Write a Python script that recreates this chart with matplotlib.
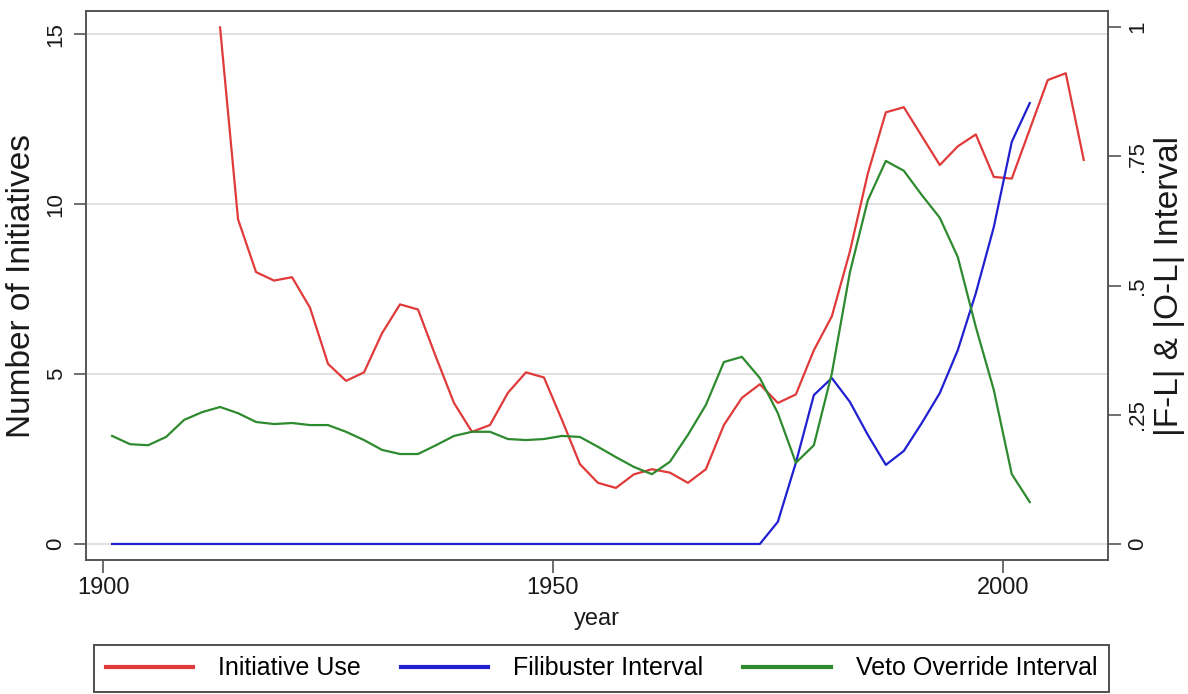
import matplotlib
matplotlib.use("Agg")
import matplotlib.pyplot as plt

plt.rcParams['font.family'] = ['Liberation Sans', 'DejaVu Sans']

# initiative use, odd years 1913-2009
init_years = list(range(1913, 2010, 2))
initiatives = [15.2, 9.55, 8.0, 7.75, 7.85, 6.95, 5.3, 4.8, 5.05, 6.2,
               7.05, 6.9, 5.5, 4.15, 3.3, 3.5, 4.45, 5.05, 4.9, 3.65,
               2.35, 1.8, 1.65, 2.05, 2.2, 2.1, 1.8, 2.2, 3.5, 4.3,
               4.7, 4.15, 4.4, 5.7, 6.7, 8.6, 10.9, 12.7, 12.85, 12.0,
               11.15, 11.7, 12.05, 10.8, 10.75, 12.2, 13.65, 13.85, 11.3]

# interval series, odd years 1901-2003
int_years = list(range(1901, 2004, 2))
filibuster = [0.0, 0.0, 0.0, 0.0, 0.0, 0.0, 0.0, 0.0, 0.0, 0.0,
              0.0, 0.0, 0.0, 0.0, 0.0, 0.0, 0.0, 0.0, 0.0, 0.0,
              0.0, 0.0, 0.0, 0.0, 0.0, 0.0, 0.0, 0.0, 0.0, 0.0,
              0.0, 0.0, 0.0, 0.0, 0.0, 0.0, 0.0,
              0.043, 0.157, 0.288, 0.321, 0.275, 0.211, 0.153, 0.180, 0.234,
              0.292, 0.375, 0.485, 0.613, 0.778, 0.853]
veto = [0.209, 0.193, 0.191, 0.207, 0.240, 0.255, 0.265, 0.253, 0.236, 0.232,
        0.234, 0.230, 0.230, 0.217, 0.201, 0.182, 0.174, 0.174, 0.191, 0.209,
        0.217, 0.217, 0.203, 0.201, 0.203, 0.209, 0.207, 0.188, 0.168, 0.149,
        0.135, 0.159, 0.211, 0.269, 0.352, 0.362, 0.321, 0.253, 0.157, 0.191,
        0.33, 0.525, 0.665, 0.741, 0.722, 0.675, 0.631, 0.555, 0.42, 0.298,
        0.135, 0.081]

left_ticks = [0, 5, 10, 15]
right_ticks = [0, 0.25, 0.5, 0.75, 1]
right_labels = ["0", ".25", ".5", ".75", "1"]
x_ticks = [1900, 1950, 2000]

RED = "#e03a3a"
BLUE = "#2020d0"
GREEN = "#2e8a2e"
SPINE = "#555555"
TXT = "#1a1a1a"


def main():
    fig = plt.figure(figsize=(11.88, 6.94), dpi=100)
    ax = fig.add_axes([0.0724, 0.1931, 0.8603, 0.791])
    ax2 = ax.twinx()

    ax.set_xlim(1898.1, 2011.7)
    ax.set_ylim(-0.47, 15.68)
    ax2.set_ylim(-0.031, 1.031)

    for y in left_ticks:
        ax.axhline(y, color="#d8d8d8", lw=1.1, zorder=0)

    l1, = ax.plot(init_years, initiatives, color=RED, lw=1.6)
    l2, = ax2.plot(int_years, filibuster, color=BLUE, lw=1.6)
    l3, = ax2.plot(int_years, veto, color=GREEN, lw=1.6)

    ax.set_xticks(x_ticks)
    ax.set_yticks(left_ticks)
    ax2.set_yticks(right_ticks)
    ax2.set_yticklabels(right_labels)

    for a in (ax, ax2):
        for s in a.spines.values():
            s.set_color(SPINE)
            s.set_linewidth(1.2)
    ax.tick_params(axis="x", length=9, width=1.2, color=SPINE,
                   labelsize=17, pad=3, labelcolor=TXT)
    ax.tick_params(axis="y", length=9, width=1.2, color=SPINE,
                   labelsize=16, pad=5, labelcolor=TXT)
    ax2.tick_params(axis="y", length=9, width=1.2, color=SPINE,
                    labelsize=16, pad=5, labelcolor=TXT)
    for t in ax.get_yticklabels():
        t.set_rotation(90)
        t.set_va("center")
    for t in ax2.get_yticklabels():
        t.set_rotation(90)
        t.set_va("center")

    ax.set_xlabel("year", fontsize=17, labelpad=7, color=TXT)
    ax.set_ylabel("Number of Initiatives", fontsize=24, labelpad=6,
                  color=TXT)
    ax2.set_ylabel("|F-L| & |O-L| Interval", fontsize=24, labelpad=4,
                   color=TXT)

    leg = fig.legend([l1, l2, l3],
                     ["Initiative Use", "Filibuster Interval",
                      "Veto Override Interval"],
                     loc="upper center", bbox_to_anchor=(0.5063, 0.0706),
                     borderaxespad=0,
                     ncol=3, fontsize=18, frameon=True, fancybox=False,
                     handlelength=3.5, handletextpad=1.0, columnspacing=1.6,
                     borderpad=0.45, edgecolor="#222222")
    leg.get_frame().set_linewidth(1.4)
    for h in leg.get_lines():
        h.set_linewidth(3)

    fig.savefig("out.png", dpi=100)


if __name__ == "__main__":
    main()
